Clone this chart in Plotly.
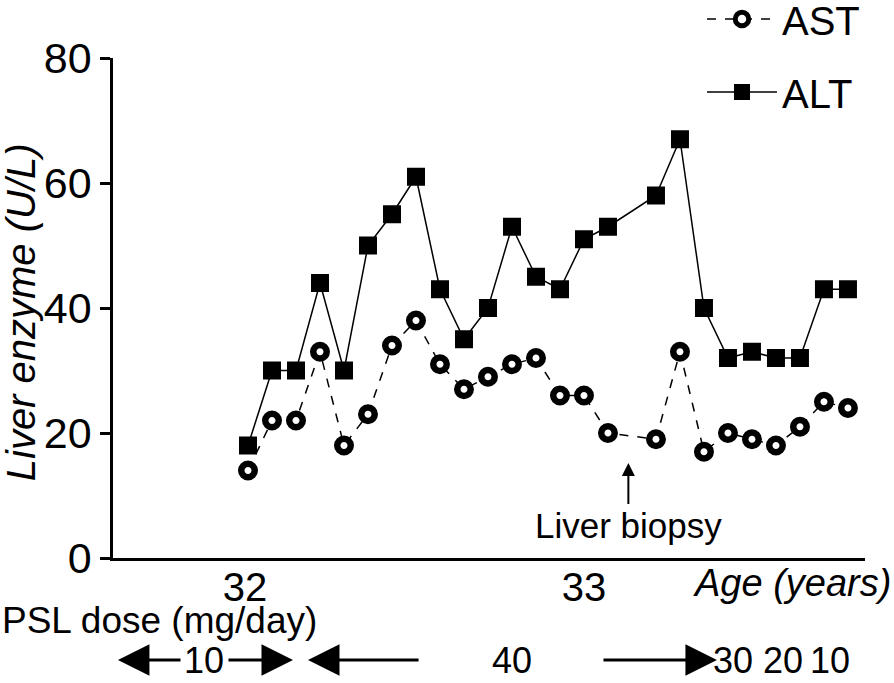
import plotly.graph_objects as go

# visit index along the age axis (index 16 = liver biopsy, no labs)
visit = [0, 1, 2, 3, 4, 5, 6, 7, 8, 9, 10, 11, 12, 13, 14, 15,
         17, 18, 19, 20, 21, 22, 23, 24, 25]
ast = [14, 22, 22, 33, 18, 23, 34, 38, 31, 27, 29, 31, 32, 26, 26, 20,
       19, 33, 17, 20, 19, 18, 21, 25, 24]
alt = [18, 30, 30, 44, 30, 50, 55, 61, 43, 35, 40, 53, 45, 43, 51, 53,
       58, 67, 40, 32, 33, 32, 32, 43, 43]

age_ticks = [-0.125, 14]
age_labels = ["32", "33"]
biopsy_visit = 15.85

# PSL dose timeline (positions in visit units)
psl_labels = ["10", "40", "30", "20", "10"]
psl_label_pos = [-1.83, 11.0, 20.2, 22.3, 24.25]
psl_arrows = [(-5.42, -2.75), (1.875, -0.875), (2.5, 7.17), (19.54, 14.75)]  # (tip, tail)

FONT = "Liberation Sans, Arial, sans-serif"
ROW_Y = -0.204

fig = go.Figure()
fig.add_trace(go.Scatter(
    x=visit, y=ast, name="AST", mode="lines+markers",
    line=dict(color="black", width=1.5, dash="dash"),
    marker=dict(symbol="circle", size=13.5, color="white",
                line=dict(color="black", width=6.5)),
    legendgroup="a"))
fig.add_trace(go.Scatter(
    x=visit, y=alt, name="ALT", mode="lines+markers",
    line=dict(color="black", width=1.5),
    marker=dict(symbol="square", size=18, color="black"),
    legendgroup="b"))

ann = []
ann.append(dict(x=biopsy_visit, y=15.2, xref="x", yref="y", text="Liver biopsy",
                showarrow=True, ax=0, ay=62, arrowhead=2, arrowsize=1.3,
                arrowwidth=2, arrowcolor="black", font=dict(size=35)))
ann.append(dict(x=-0.122, y=0.492, xref="paper", yref="paper",
                xanchor="center", yanchor="middle",
                text="<i>Liver enzyme (U/L)</i>", textangle=-90,
                showarrow=False, font=dict(size=40)))
ann.append(dict(x=1.037, y=-0.05, xref="paper", yref="paper",
                xanchor="right", yanchor="middle",
                text="<i>Age (years)</i>", showarrow=False, font=dict(size=38)))
ann.append(dict(x=-0.150, y=-0.124, xref="paper", yref="paper",
                xanchor="left", yanchor="middle",
                text="PSL dose (mg/day)", showarrow=False, font=dict(size=37)))
for lab, pos in zip(psl_labels, psl_label_pos):
    ann.append(dict(x=pos, y=ROW_Y, xref="x", yref="paper", text=lab,
                    xanchor="center", yanchor="middle",
                    showarrow=False, font=dict(size=36)))
for tip, tail in psl_arrows:
    ann.append(dict(x=tip, y=ROW_Y, xref="x", yref="paper", text="",
                    ax=tail, ay=0, axref="x", showarrow=True,
                    arrowhead=2, arrowsize=2.1, arrowwidth=3, arrowcolor="black"))

fig.update_layout(
    width=894, height=683,
    margin=dict(l=113, r=29, t=58, b=125, autoexpand=False),
    paper_bgcolor="white", plot_bgcolor="white",
    font=dict(family=FONT, color="black"),
    showlegend=True,
    legend=dict(x=1.0, y=1.143, xanchor="right", yanchor="top",
                font=dict(size=40), tracegroupgap=18, itemwidth=70,
                bgcolor="rgba(0,0,0,0)"),
    xaxis=dict(range=[-5.625, 25.71], showgrid=False, zeroline=False,
               showline=True, linecolor="black", linewidth=2.5,
               tickvals=age_ticks, ticktext=age_labels, ticks="",
               tickfont=dict(size=40), ticklabelstandoff=-8),
    yaxis=dict(range=[0, 80], showgrid=False, zeroline=False,
               showline=True, linecolor="black", linewidth=2.5,
               tickvals=[0, 20, 40, 60, 80], ticks="outside", ticklen=10,
               tickwidth=2.5, tickcolor="black", tickfont=dict(size=43)),
    annotations=ann,
)

fig.write_html("out.html", config={"displayModeBar": False},
               post_script="document.body.style.margin='0';")
